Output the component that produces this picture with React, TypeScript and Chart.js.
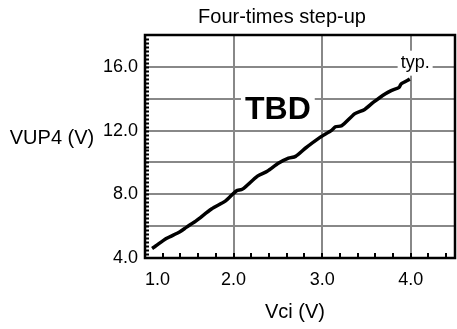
import React, { useEffect, useRef } from "react";
import { Chart, registerables } from "chart.js";

Chart.register(...registerables);

const chartTitle = "Four-times step-up";
const xAxisTitle = "Vci (V)";
const yAxisTitle = "VUP4 (V)";
const curveNote = "typ.";
const stampText = "TBD";

const vciValues = [1.08, 1.12, 1.24, 1.39, 1.47, 1.58, 1.75, 1.91, 2.03, 2.1, 2.27, 2.38, 2.51, 2.62, 2.7, 2.81, 2.96, 3.11, 3.15, 3.22, 3.37, 3.48, 3.58, 3.71, 3.78, 3.87, 3.89, 3.99];
const vupValues = [4.6, 4.75, 5.22, 5.63, 5.94, 6.35, 7.08, 7.59, 8.21, 8.32, 9.14, 9.45, 9.96, 10.27, 10.38, 10.89, 11.51, 12.03, 12.24, 12.3, 13.06, 13.33, 13.78, 14.3, 14.51, 14.71, 14.92, 15.23];

const xTickValues = [1, 2, 3, 4, 4.5];
const xTickLabels = ["1.0", "2.0", "3.0", "4.0", ""];
const yTickValues = [4, 6, 8, 10, 12, 14, 16, 18];
const yTickLabels = ["4.0", "", "8.0", "", "12.0", "", "16.0", ""];

const X_MIN = 1, X_MAX = 4.5, X_MINOR = 0.2;
const Y_MIN = 4, Y_MAX = 18, Y_MINOR = 0.25;

const FONT = "'Liberation Sans', Arial, sans-serif";

export default function App() {
  const ref = useRef<HTMLCanvasElement>(null);

  useEffect(() => {
    document.body.style.margin = "0";
    const canvas = ref.current;
    if (!canvas) return;

    const deco = {
      id: "deco",
      beforeDatasetsDraw(chart: any) {
        const ctx = chart.ctx;
        const xs = chart.scales.x;
        const ys = chart.scales.y;
        ctx.save();
        // TBD stamp
        ctx.font = `bold 32px ${FONT}`;
        const tx = xs.getPixelForValue(2.5);
        const ty = ys.getPixelForValue(13.35);
        const tw = ctx.measureText(stampText).width;
        ctx.fillStyle = "#fff";
        ctx.fillRect(tx - tw / 2 - 4, ty - 17, tw + 8, 34);
        ctx.fillStyle = "#000";
        ctx.textAlign = "center";
        ctx.textBaseline = "middle";
        ctx.fillText(stampText, tx, ty + 1);
        // typ. note
        ctx.font = `18px ${FONT}`;
        const nx = xs.getPixelForValue(4.05);
        const ny = ys.getPixelForValue(16.2);
        const nw = ctx.measureText(curveNote).width;
        ctx.fillStyle = "#fff";
        ctx.fillRect(nx - nw / 2 - 3, ny - 13, nw + 6, 25);
        ctx.fillStyle = "#000";
        ctx.fillText(curveNote, nx, ny - 1);
        ctx.restore();
      },
      afterDraw(chart: any) {
        const ctx = chart.ctx;
        const a = chart.chartArea;
        const xs = chart.scales.x;
        const ys = chart.scales.y;
        ctx.save();
        // minor ticks
        ctx.strokeStyle = "#000";
        ctx.lineWidth = 2;
        ctx.beginPath();
        for (let v = X_MIN + X_MINOR; v < X_MAX - 1e-6; v += X_MINOR) {
          const px = Math.round(xs.getPixelForValue(v));
          ctx.moveTo(px, a.bottom);
          ctx.lineTo(px, a.bottom - 5);
        }
        for (let v = Y_MIN + Y_MINOR; v < Y_MAX - 1e-6; v += Y_MINOR) {
          const py = Math.round(ys.getPixelForValue(v)) + 0.5;
          ctx.moveTo(a.left, py);
          ctx.lineTo(a.left + 4, py);
        }
        ctx.stroke();
        // frame
        ctx.lineWidth = 2.5;
        ctx.strokeRect(a.left, a.top, a.right - a.left, a.bottom - a.top);
        // titles
        ctx.fillStyle = "#000";
        ctx.textAlign = "center";
        ctx.textBaseline = "middle";
        ctx.font = `20px ${FONT}`;
        ctx.fillText(chartTitle, 282, 17);
        ctx.fillText(yAxisTitle, 52, 138);
        ctx.fillText(xAxisTitle, (a.left + a.right) / 2 - 5, 312);
        ctx.restore();
      },
    };

    const chart = new Chart(canvas, {
      type: "line",
      data: {
        datasets: [
          {
            data: vciValues.map((x, i) => ({ x, y: vupValues[i] })),
            borderColor: "#000",
            borderWidth: 3.5,
            pointRadius: 0,
            tension: 0.25,
            fill: false,
          },
        ],
      },
      options: {
        animation: false,
        responsive: true,
        maintainAspectRatio: false,
        layout: { padding: { top: 35, right: 2, left: 0, bottom: 0 } },
        plugins: { legend: { display: false }, tooltip: { enabled: false }, title: { display: false } },
        scales: {
          x: {
            type: "linear",
            min: X_MIN,
            max: X_MAX,
            afterBuildTicks: (axis: any) => {
              axis.ticks = xTickValues.map((value) => ({ value }));
            },
            afterFit: (axis: any) => {
              axis.height = 71;
              axis.paddingLeft = 0;
              axis.paddingRight = 0;
            },
            ticks: {
              callback: (value: any) => {
                const i = xTickValues.indexOf(Number(value));
                return i >= 0 ? xTickLabels[i] : "";
              },
              font: { family: FONT, size: 18 },
              color: "#000",
              padding: 11,
              align: "inner",
              maxRotation: 0,
              autoSkip: false,
            },
            grid: { color: "#888", lineWidth: 2, drawTicks: false },
            border: { display: false },
          },
          y: {
            type: "linear",
            min: Y_MIN,
            max: Y_MAX,
            afterBuildTicks: (axis: any) => {
              axis.ticks = yTickValues.map((value) => ({ value }));
            },
            afterFit: (axis: any) => {
              axis.width = 145;
              axis.paddingTop = 0;
              axis.paddingBottom = 0;
            },
            ticks: {
              callback: (value: any) => {
                const i = yTickValues.indexOf(Number(value));
                return i >= 0 ? yTickLabels[i] : "";
              },
              font: { family: FONT, size: 18 },
              color: "#000",
              padding: 7,
              autoSkip: false,
            },
            grid: { color: "#888", lineWidth: 2, drawTicks: false },
            border: { display: false },
          },
        },
      },
      plugins: [deco],
    } as any);

    return () => chart.destroy();
  }, []);

  return (
    <div style={{ position: "absolute", left: 0, top: 0, width: 457, height: 329 }}>
      <canvas ref={ref} />
    </div>
  );
}
